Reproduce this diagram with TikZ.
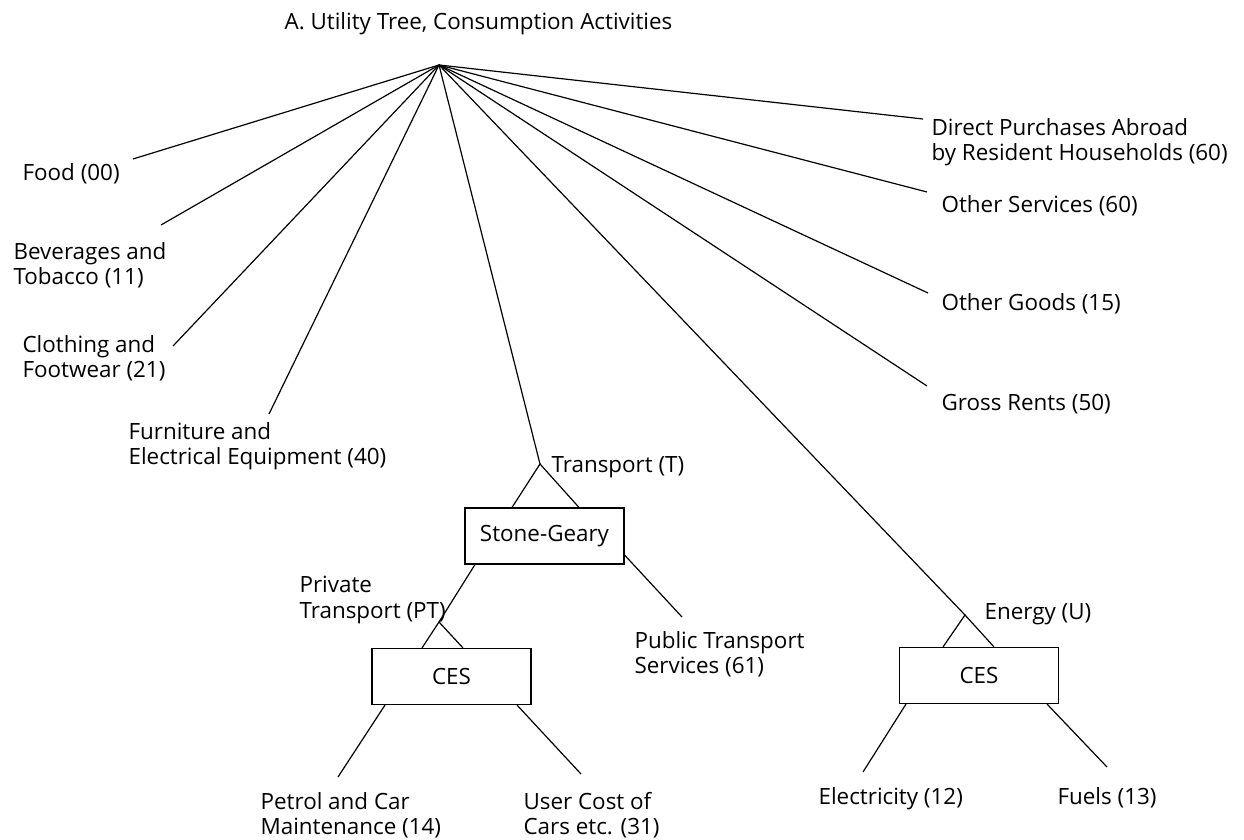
\documentclass[tikz,border=0pt]{standalone}
\usepackage{fontspec}
\setmainfont{Open Sans}
\usepackage{tikz}

\tikzset{
  leaf/.style={anchor=west, inner sep=0pt, yshift=-1pt, align=left, font=\fontsize{11.2}{12.6}\selectfont},
  aggbox/.style={draw, line width=0.55pt, minimum width=79.5pt, minimum height=28pt, inner sep=0pt, font=\fontsize{11.2}{12.6}\selectfont}
}

\begin{document}
\begin{tikzpicture}[x=0.5pt, y=-0.5pt, line width=0.6pt]
        \useasboundingbox (0,0) rectangle (1244,840);
        \node[leaf] (title) at (284,22) {A. Utility Tree, Consumption Activities};
        \coordinate (top) at (439,65);
        % first level
        \node[leaf] (food) at (22,172) {Food (00)};
        \node[leaf] (bev) at (13,263) {Beverages and\\Tobacco (11)};
        \node[leaf] (cloth) at (22,356) {Clothing and\\Footwear (21)};
        \node[leaf] (furn) at (128,444) {Furniture and\\Electrical Equipment (40)};
        \node[leaf] (abroad) at (931,140) {Direct Purchases Abroad\\by Resident Households (60)};
        \node[leaf] (serv) at (941,204) {Other Services (60)};
        \node[leaf] (goods) at (941,302) {Other Goods (15)};
        \node[leaf] (rents) at (941,402) {Gross Rents (50)};
        \coordinate (foodE) at (133,159);
        \coordinate (bevE) at (161,225);
        \coordinate (clothE) at (173,346);
        \coordinate (furnE) at (269,414);
        \coordinate (abroadE) at (923,119);
        \coordinate (servE) at (927,192);
        \coordinate (goodsE) at (928,293);
        \coordinate (rentsE) at (927,386);
        \draw[-] (top)--(foodE);
        \draw[-] (top)--(bevE);
        \draw[-] (top)--(clothE);
        \draw[-] (top)--(furnE);
        \draw[-] (top)--(abroadE);
        \draw[-] (top)--(servE);
        \draw[-] (top)--(goodsE);
        \draw[-] (top)--(rentsE);
        % transport
        \coordinate (T) at (540,464);
        \node[leaf] (Tlab) at (551,465) {Transport (T)};
        \node[aggbox] (sg) at (544.5,536) {Stone-Geary};
        \draw[-] (top)--(T);
        \draw[-] (sg.north -| 512,0)--(T)--(sg.north -| 579,0);
        \coordinate (PT) at (439,622);
        \node[leaf] (PTlab) at (299,598) {Private\\Transport (PT)};
        \node[leaf] (pub) at (634,652) {Public Transport\\Services (61)};
        \coordinate (pubE) at (682,617);
        \draw[-] (sg.south -| 475,0)--(PT);
        \draw[-] (sg.east |- 0,555)--(pubE);
        \node[aggbox] (ces1) at (451.5,676.5) {CES};
        \draw[-] (ces1.north -| 422,0)--(PT)--(ces1.north -| 463,0);
        \node[leaf] (petrol) at (260,813) {Petrol and Car\\Maintenance (14)};
        \node[leaf] (cars) at (523,813) {User Cost of\\Cars etc. (31)};
        \coordinate (petrolE) at (338,777);
        \coordinate (carsE) at (581,774);
        \draw[-] (ces1.south -| 385,0)--(petrolE);
        \draw[-] (ces1.south -| 517,0)--(carsE);
        % energy
        \coordinate (U) at (965,615);
        \node[leaf] (Ulab) at (984,612) {Energy (U)};
        \node[aggbox] (ces2) at (979,675.5) {CES};
        \draw[-] (top)--(U);
        \draw[-] (ces2.north -| 943,0)--(U)--(ces2.north -| 994,0);
        \node[leaf] (elec) at (818,797) {Electricity (12)};
        \node[leaf] (fuel) at (1057,796) {Fuels (13)};
        \coordinate (elecE) at (863,772);
        \coordinate (fuelE) at (1107,767);
        \draw[-] (ces2.south -| 906,0)--(elecE);
        \draw[-] (ces2.south -| 1047,0)--(fuelE);
\end{tikzpicture}
\end{document}
